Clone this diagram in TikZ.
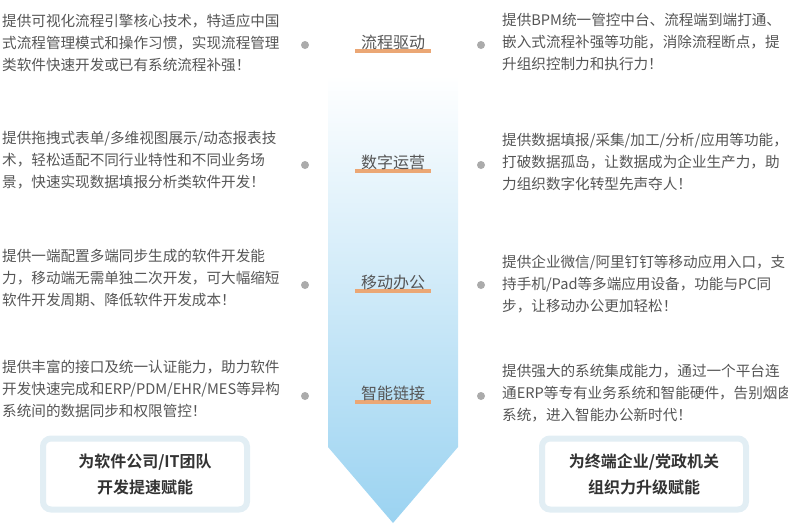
\documentclass[tikz,border=0pt]{standalone}
\usepackage{fontspec}
\setmainfont{Noto Sans CJK SC}[BoldFont={* Bold}]
\definecolor{txtgray}{HTML}{555555}
\definecolor{dotgray}{HTML}{ABABAB}
\definecolor{stripe}{HTML}{EBA775}
\definecolor{arrowblue}{HTML}{9BD3F1}
\definecolor{boxrim}{HTML}{E2EEF4}
\usetikzlibrary{positioning}
\tikzset{
  desc/.style={anchor=west, align=left, font=\fontsize{14.6}{22}\selectfont, text=txtgray, inner sep=0pt},
  stagelbl/.style={font=\fontsize{16}{18}\selectfont, text=txtgray, inner sep=1pt},
  dot/.style={circle, fill=dotgray, minimum size=8pt, inner sep=0pt},
  goalbox/.style={draw=boxrim, line width=6pt, rounded corners=8pt, fill=white, minimum width=204pt, minimum height=71pt, align=center, font=\bfseries\fontsize{16}{26}\selectfont, text=black!80}
}
\begin{document}
\begin{tikzpicture}[x=1pt, y=-1pt]
				\useasboundingbox (0,0) rectangle (788,525);
				% central arrow
				\shade[top color=white, bottom color=arrowblue] (328,75) -- (458,75) -- (458,447) -- (393,523) -- (328,447) -- cycle;
				% stages
				\foreach \name/\lbl/\y in {s1/流程驱动/42, s2/数字运营/162, s3/移动办公/282, s4/智能链接/393}{
					\fill[stripe] (355,\y+7) rectangle (431,\y+11);
					\node[stagelbl] (\name) at (393,\y) {\lbl};
					\node[dot] (\name l) at (305,\y+3) {};
					\node[dot] (\name r) at (481,\y+3) {};
				}
				% left texts
				\node[desc] (l1) at (2,43) {提供可视化流程引擎核心技术，特适应中国\\式流程管理模式和操作习惯，实现流程管理\\类软件快速开发或已有系统流程补强！};
				\node[desc] (l2) at (2,160) {提供拖拽式表单/多维视图展示/动态报表技\\术，轻松适配不同行业特性和不同业务场\\景，快速实现数据填报分析类软件开发！};
				\node[desc] (l3) at (2,278) {提供一端配置多端同步生成的软件开发能\\力，移动端无需单独二次开发，可大幅缩短\\软件开发周期、降低软件开发成本！};
				\node[desc] (l4) at (2,389) {提供丰富的接口及统一认证能力，助力软件\\开发快速完成和ERP/PDM/EHR/MES等异构\\系统间的数据同步和权限管控！};
				% right texts
				\node[desc] (r1) at (502,42) {提供BPM统一管控中台、流程端到端打通、\\嵌入式流程补强等功能，消除流程断点，提\\升组织控制力和执行力！};
				\node[desc] (r2) at (502,162) {提供数据填报/采集/加工/分析/应用等功能，\\打破数据孤岛，让数据成为企业生产力，助\\力组织数字化转型先声夺人！};
				\node[desc] (r3) at (502,284) {提供企业微信/阿里钉钉等移动应用入口，支\\持手机/Pad等多端应用设备，功能与PC同\\步，让移动办公更加轻松！};
				\node[desc] (r4) at (502,393) {提供强大的系统集成能力，通过一个平台连\\通ERP等专有业务系统和智能硬件，告别烟囱\\系统，进入智能办公新时代！};
				% goal boxes
				\node[goalbox] (gl) at (145,474) {为软件公司/IT团队\\开发提速赋能};
				\node[goalbox] (gr) at (644,474) {为终端企业/党政机关\\组织力升级赋能};
			\end{tikzpicture}
\end{document}
